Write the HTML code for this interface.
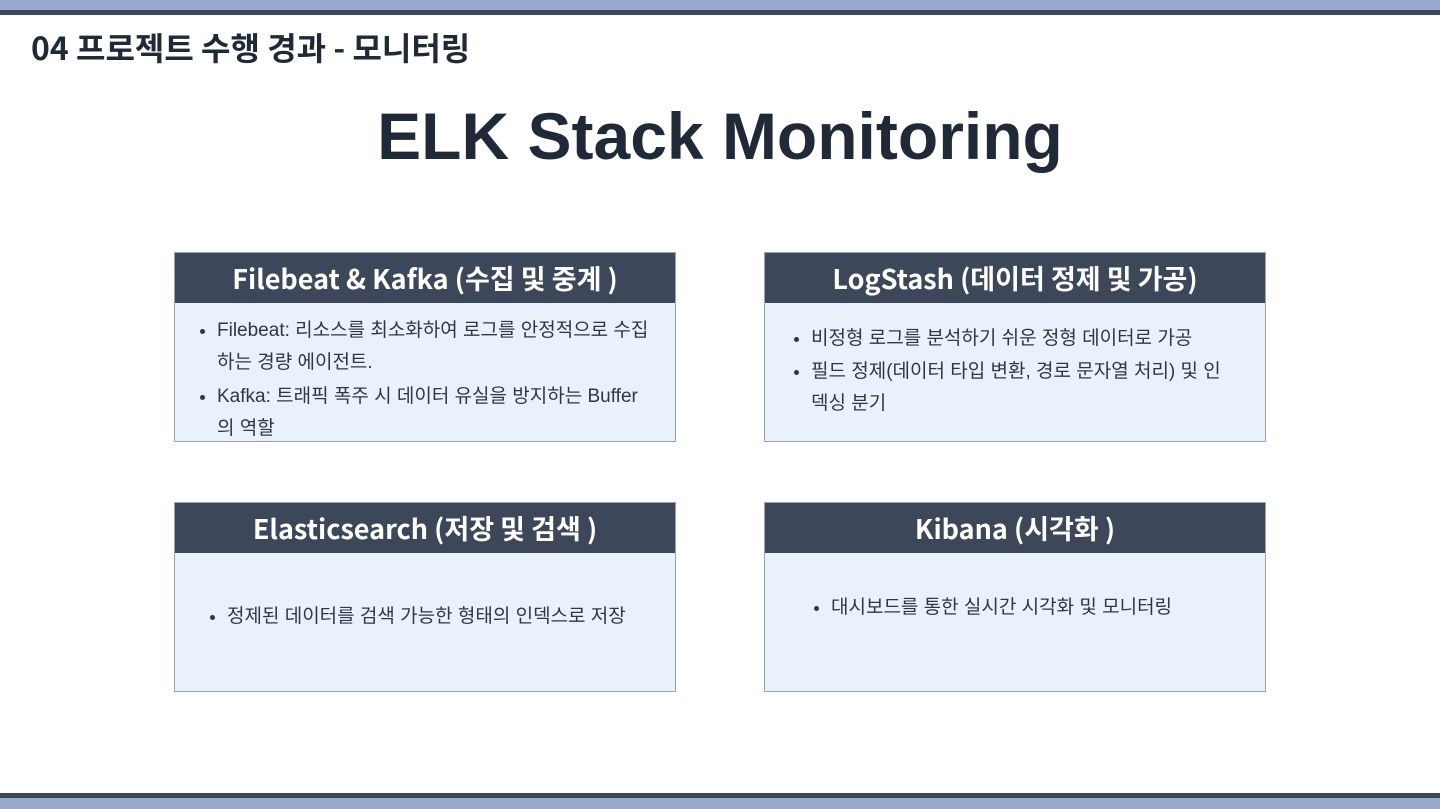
<!DOCTYPE html>
<html><head><meta charset="utf-8"><style>
body{margin:0;width:1440px;height:809px;position:relative;background:#fff;font-family:"Liberation Sans","Noto Sans CJK KR",sans-serif;color:#1f2937;overflow:hidden}
.t1{position:absolute;left:0;top:0;width:1440px;height:10px;background:#96abcd}
.t2{position:absolute;left:0;top:10px;width:1440px;height:5px;background:#3d475a}
.b1{position:absolute;left:0;top:793px;width:1440px;height:5px;background:#3d475a}
.b2{position:absolute;left:0;top:798px;width:1440px;height:11px;background:#96abcd}
.h{position:absolute;left:31px;top:25px;font-size:32px;font-weight:bold;color:#1f2937;white-space:nowrap;font-family:"Noto Sans CJK KR",sans-serif;line-height:44px}
.title{position:absolute;left:0;width:1440px;top:98px;text-align:center;font-size:66px;font-weight:bold;color:#1f2937}
.box{position:absolute;width:502px;height:190px;border:1px solid #9aa3b3;background:#e9f1fc;box-sizing:border-box}
.hd{height:50px;background:#3d475a;color:#fff;font-size:27px;font-weight:bold;text-align:center;line-height:50px;white-space:nowrap;font-family:"Noto Sans CJK KR",sans-serif}
ul{margin:0;padding:0 20px 0 42px;font-size:19px;line-height:32px;color:#2d3748}
</style></head><body>
<div class="t1"></div><div class="t2"></div><div class="b1"></div><div class="b2"></div>
<div class="h">04 프로젝트 수행 경과 - 모니터링</div>
<div class="title">ELK Stack Monitoring</div>
<div class="box" style="left:174px;top:252px"><div class="hd">Filebeat &amp; Kafka (수집 및 중계 )</div>
<ul style="padding-top:12px;padding-right:24px"><li>Filebeat: 리소스를 최소화하여 로그를 안정적으로 수집하는 경량 에이전트.</li><li style="margin-top:2px">Kafka: 트래픽 폭주 시 데이터 유실을 방지하는 Buffer의 역할</li></ul></div>
<div class="box" style="left:764px;top:252px"><div class="hd">LogStash (데이터 정제 및 가공)</div>
<ul style="padding-top:20px;padding-left:46px;padding-right:34px"><li>비정형 로그를 분석하기 쉬운 정형 데이터로 가공</li><li style="margin-top:1px">필드 정제(데이터 타입 변환, 경로 문자열 처리) 및 인덱싱 분기</li></ul></div>
<div class="box" style="left:174px;top:502px"><div class="hd">Elasticsearch (저장 및 검색 )</div>
<ul style="padding-top:48px;padding-left:52px"><li>정제된 데이터를 검색 가능한 형태의 인덱스로 저장</li></ul></div>
<div class="box" style="left:764px;top:502px"><div class="hd">Kibana (시각화 )</div>
<ul style="padding-top:39px;padding-left:66px"><li>대시보드를 통한 실시간 시각화 및 모니터링</li></ul></div>
</body></html>
